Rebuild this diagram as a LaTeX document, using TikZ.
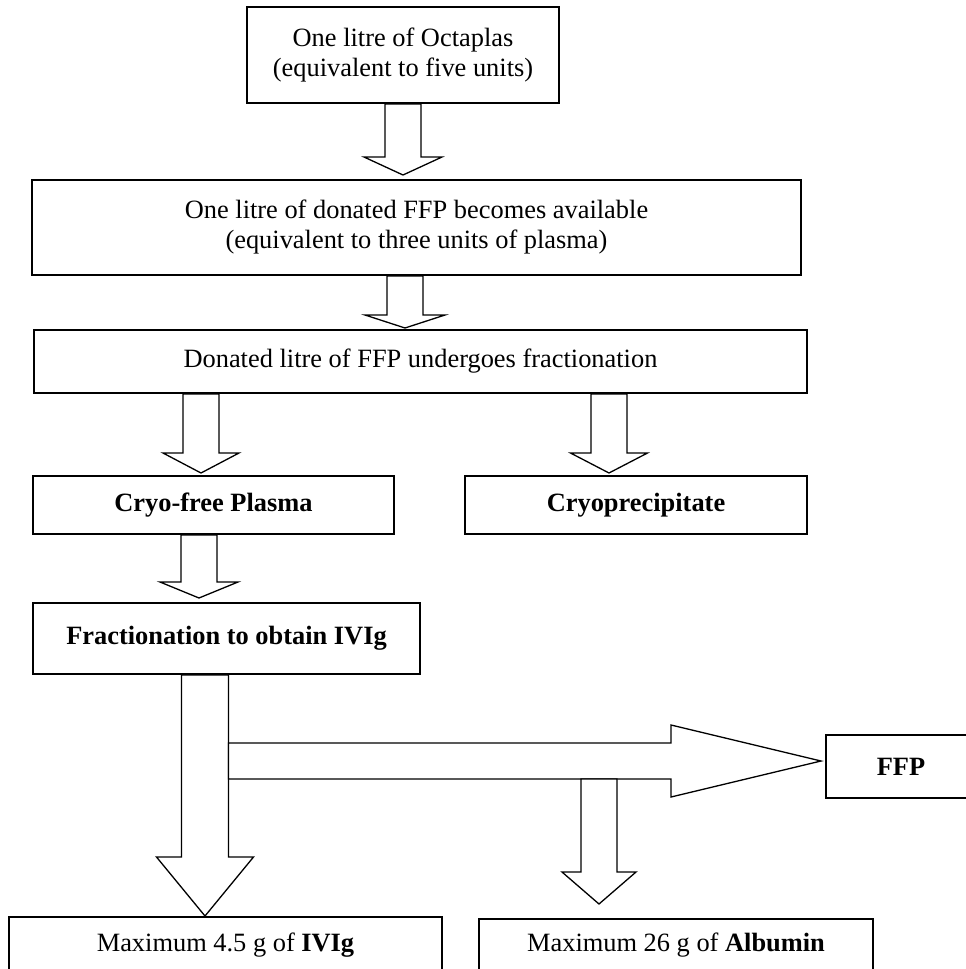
\documentclass[tikz,border=0pt]{standalone}
\usepackage{fontspec}
\setmainfont{Liberation Serif}
\usetikzlibrary{calc}

\tikzset{
    box/.style={draw, line width=2pt, align=center, inner sep=0pt,
        font=\fontsize{26.4}{30}\selectfont},
    fat/.style={draw, fill=white, line width=1.3pt, line join=miter},
}

\newcommand{\fatdown}[5]{%
    \draw[fat] ($(#1)+(-#3,0)$) -- ($(#2)+(-#3,-#5)$) -- ($(#2)+(-#4,-#5)$) -- (#2)
        -- ($(#2)+(#4,-#5)$) -- ($(#2)+(#3,-#5)$) -- ($(#1)+(#3,0)$) -- cycle;}
\newcommand{\fatright}[5]{%
    \draw[fat] ($(#1)+(0,-#3)$) -- ($(#2)+(-#5,-#3)$) -- ($(#2)+(-#5,-#4)$) -- (#2)
        -- ($(#2)+(-#5,#4)$) -- ($(#2)+(-#5,#3)$) -- ($(#1)+(0,#3)$) -- cycle;}

\begin{document}
\begin{tikzpicture}[x=1pt, y=-1pt]
    \useasboundingbox (0,0) rectangle (966,969);

    \node[box, minimum width=312pt, minimum height=96pt] (octaplas) at (403,55)
        {One litre of Octaplas\\(equivalent to five units)};
    \node[box, minimum width=769pt, minimum height=95pt] (donated) at (416.5,227.5)
        {One litre of donated FFP becomes available\\(equivalent to three units of plasma)};
    \node[box, minimum width=773pt, minimum height=63pt] (fraction) at (420.5,361.5)
        {Donated litre of FFP undergoes fractionation};
    \node[box, minimum width=361pt, minimum height=58pt] (cryofree) at (213.5,505)
        {\textbf{Cryo-free Plasma}};
    \node[box, minimum width=342pt, minimum height=58pt] (cryoprec) at (636,505)
        {\textbf{Cryoprecipitate}};
    \node[box, minimum width=387pt, minimum height=71pt] (ivigfrac) at (226.5,638.5)
        {\textbf{Fractionation to obtain IVIg}};
    \node[box, minimum width=150pt, minimum height=63pt] (ffp) at (901,766.5)
        {\textbf{FFP}};
    \node[box, minimum width=433pt, minimum height=56pt] (ivig) at (225.5,945)
        {Maximum 4.5 g of \textbf{IVIg}};
    \node[box, minimum width=394pt, minimum height=52pt] (albumin) at (676,945)
        {Maximum 26 g of \textbf{Albumin}};

    \coordinate (t1) at (403,175);
    \coordinate (t2) at (405,328);
    \coordinate (t3) at (201,473);
    \coordinate (t4) at (609,473);
    \coordinate (t5) at (199,598);
    \coordinate (t6) at (ivig.north -| 205,0);
    \coordinate (s7) at (228.5,761);
    \coordinate (t7) at (821,761);
    \coordinate (s8) at (599,779);
    \coordinate (t8) at (599,904);

    \fatdown{t1 |- octaplas.south}{t1}{18}{39}{18}
    \fatdown{t2 |- donated.south}{t2}{18}{40}{13}
    \fatdown{t3 |- fraction.south}{t3}{18}{38}{20}
    \fatdown{t4 |- fraction.south}{t4}{18}{38.5}{20}
    \fatdown{t5 |- cryofree.south}{t5}{18}{39}{16}
    \fatdown{t6 |- ivigfrac.south}{t6}{23.5}{48.5}{59}
    \fatright{s7}{t7}{18}{36}{150}
    \fatdown{s8}{t8}{18}{37}{32}
\end{tikzpicture}
\end{document}
